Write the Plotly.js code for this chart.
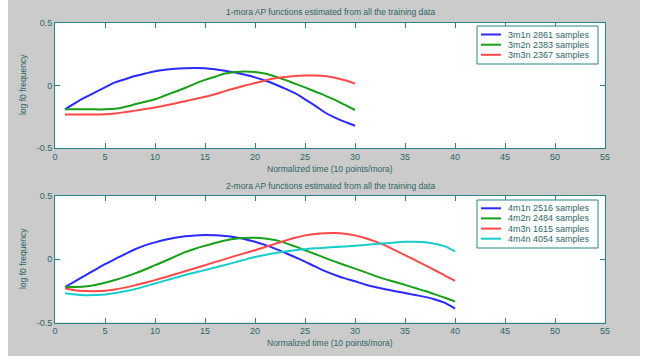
<!DOCTYPE html>
<html>
<head>
<meta charset="utf-8">
<script src="https://cdn.plot.ly/plotly-3.0.1.min.js"></script>
<style>html,body{margin:0;padding:0;background:#fff;}#chart{width:645px;height:360px;}</style>
</head>
<body>
<div id="chart"></div>
<script>
// ---- data ----
const time1 = [1,2,3,4,5,6,7,8,9,10,11,12,13,14,15,16,17,18,19,20,21,22,23,24,25,26,27,28,29,30];
const time2 = [1,2,3,4,5,6,7,8,9,10,11,12,13,14,15,16,17,18,19,20,21,22,23,24,25,26,27,28,29,30,31,32,33,34,35,36,37,38,39,40];

const m3n1 = [-0.19,-0.14,-0.095,-0.055,-0.015,0.025,0.05,0.075,0.095,0.113,0.125,0.133,0.138,0.14,0.138,0.13,0.118,0.103,0.085,0.065,0.04,0.01,-0.025,-0.06,-0.11,-0.16,-0.215,-0.255,-0.29,-0.32];
const m3n2 = [-0.19,-0.19,-0.19,-0.19,-0.19,-0.185,-0.17,-0.15,-0.13,-0.11,-0.08,-0.05,-0.02,0.015,0.045,0.07,0.095,0.108,0.112,0.108,0.095,0.072,0.045,0.015,-0.015,-0.048,-0.08,-0.115,-0.155,-0.195];
const m3n3 = [-0.23,-0.23,-0.23,-0.23,-0.228,-0.222,-0.212,-0.2,-0.188,-0.175,-0.16,-0.143,-0.125,-0.108,-0.09,-0.07,-0.045,-0.022,0.0,0.02,0.04,0.057,0.068,0.076,0.08,0.08,0.075,0.062,0.042,0.015];

const m4n1 = [-0.22,-0.175,-0.13,-0.085,-0.04,0.0,0.04,0.078,0.108,0.132,0.152,0.168,0.18,0.187,0.19,0.188,0.182,0.172,0.157,0.137,0.112,0.083,0.05,0.015,-0.02,-0.058,-0.095,-0.125,-0.152,-0.175,-0.2,-0.22,-0.237,-0.253,-0.268,-0.283,-0.298,-0.318,-0.345,-0.39];
const m4n2 = [-0.22,-0.22,-0.217,-0.205,-0.187,-0.165,-0.14,-0.113,-0.082,-0.048,-0.015,0.02,0.055,0.082,0.105,0.127,0.147,0.16,0.167,0.168,0.163,0.15,0.128,0.1,0.07,0.04,0.01,-0.02,-0.048,-0.075,-0.103,-0.132,-0.158,-0.18,-0.203,-0.228,-0.252,-0.278,-0.305,-0.335];
const m4n3 = [-0.23,-0.245,-0.252,-0.253,-0.25,-0.24,-0.225,-0.207,-0.187,-0.166,-0.143,-0.12,-0.096,-0.072,-0.048,-0.024,0.0,0.024,0.047,0.07,0.095,0.12,0.145,0.168,0.187,0.198,0.204,0.205,0.2,0.187,0.167,0.14,0.108,0.07,0.032,-0.008,-0.048,-0.088,-0.13,-0.172];
const m4n4 = [-0.27,-0.28,-0.285,-0.284,-0.28,-0.268,-0.253,-0.237,-0.215,-0.192,-0.17,-0.148,-0.126,-0.106,-0.087,-0.066,-0.046,-0.026,-0.004,0.016,0.033,0.047,0.06,0.07,0.078,0.085,0.09,0.095,0.1,0.105,0.112,0.119,0.125,0.131,0.136,0.137,0.132,0.12,0.1,0.06];

const names1 = ['3m1n 2861 samples','3m2n 2383 samples','3m3n 2367 samples'];
const names2 = ['4m1n 2516 samples','4m2n 2484 samples','4m3n 1615 samples','4m4n 4054 samples'];
const yTickVals = [-0.5, 0, 0.5];
const yTickText = ['-0.5', '0', '0.5'];
const xTickVals = [0,5,10,15,20,25,30,35,40,45,50,55];
const title1 = '1-mora AP functions estimated from all the training data';
const title2 = '2-mora AP functions estimated from all the training data';
const xLabel = 'Normalized time (10 points/mora)';
const yLabel = 'log f0 frequency';

// ---- styles ----
const colors1 = ['#2a2aff','#18a018','#ff4848'];
const colors2 = ['#2a2aff','#18a018','#ff4848','#18cccc'];
const W = 645, H = 360;
const px = v => v / W;
const py = v => 1 - v / H;
const txtColor = '#2e6666';
const axColor = '#2a8484';
const FONT = 'Liberation Sans, Arial, sans-serif';

const traces = [];
const series1 = [m3n1, m3n2, m3n3];
const series2 = [m4n1, m4n2, m4n3, m4n4];
series1.forEach((s, i) => traces.push({x: time1, y: s, type: 'scatter', mode: 'lines', name: names1[i],
  line: {color: colors1[i], width: 2, shape: 'spline', smoothing: 1}, xaxis: 'x', yaxis: 'y', showlegend: false}));
series2.forEach((s, i) => traces.push({x: time2, y: s, type: 'scatter', mode: 'lines', name: names2[i],
  line: {color: colors2[i], width: 2, shape: 'spline', smoothing: 1}, xaxis: 'x2', yaxis: 'y2', showlegend: false}));

function xax(anchor) {
  return {domain: [px(55), px(605)], range: [0, 55], anchor: anchor, tickvals: xTickVals,
    ticks: 'inside', ticklen: 5, tickcolor: axColor, showline: true, linecolor: axColor, linewidth: 1,
    mirror: 'ticks', showgrid: false, zeroline: false, tickfont: {size: 9, color: txtColor, family: FONT}};
}
function yax(anchor, top, bottom) {
  return {domain: [py(bottom), py(top)], range: [-0.5, 0.5], anchor: anchor, tickvals: yTickVals, ticktext: yTickText,
    ticks: 'inside', ticklen: 5, tickcolor: axColor, showline: true, linecolor: axColor, linewidth: 1,
    mirror: 'ticks', showgrid: false, zeroline: false, tickfont: {size: 9, color: txtColor, family: FONT}};
}

const shapes = [
  {type: 'rect', xref: 'paper', yref: 'paper', x0: px(8), x1: px(640), y0: py(356), y1: 1,
   fillcolor: '#cbcbcb', line: {width: 0}, layer: 'below'},
  {type: 'rect', xref: 'x domain', yref: 'y domain', x0: 0, x1: 1, y0: 0, y1: 1,
   fillcolor: '#ffffff', line: {width: 0}, layer: 'below'},
  {type: 'rect', xref: 'x2 domain', yref: 'y2 domain', x0: 0, x1: 1, y0: 0, y1: 1,
   fillcolor: '#ffffff', line: {width: 0}, layer: 'below'}
];
const annotations = [];
function txt(text, x, y, size, opts) {
  annotations.push(Object.assign({text: text, xref: 'paper', yref: 'paper', x: px(x), y: py(y),
    showarrow: false, xanchor: 'center', yanchor: 'middle',
    font: {size: size, color: txtColor, family: FONT}}, opts || {}));
}
txt(title1, 330, 12, 8.5);
txt(title2, 330, 186, 8.5);
txt(xLabel, 330, 169, 8.5);
txt(xLabel, 330, 343, 8.5);
txt(yLabel, 23, 85, 8.5, {textangle: -90});
txt(yLabel, 23, 259, 8.5, {textangle: -90});

function legendBox(x0, y0, x1, y1, names, colors, ys) {
  shapes.push({type: 'rect', xref: 'paper', yref: 'paper', x0: px(x0), x1: px(x1), y0: py(y1), y1: py(y0),
    fillcolor: '#ffffff', line: {color: axColor, width: 1}});
  names.forEach((n, i) => {
    shapes.push({type: 'line', xref: 'paper', yref: 'paper', x0: px(481), x1: px(501), y0: py(ys[i]), y1: py(ys[i]),
      line: {color: colors[i], width: 2}});
    txt(n, 506, ys[i], 9, {xanchor: 'left'});
  });
}
legendBox(477, 26, 598, 64, names1, colors1, [34.5, 44.7, 54.8]);
legendBox(477, 200, 598, 248, names2, colors2, [208.3, 218.4, 228.6, 238.7]);

const layout = {
  width: W, height: H, margin: {l: 0, r: 0, t: 0, b: 0},
  paper_bgcolor: '#ffffff', plot_bgcolor: 'rgba(0,0,0,0)',
  showlegend: false,
  xaxis: xax('y'), yaxis: yax('x', 22.7, 148.3),
  xaxis2: xax('y2'), yaxis2: yax('x2', 195.7, 322.5),
  shapes: shapes, annotations: annotations,
  font: {family: FONT, color: txtColor}
};
Plotly.newPlot('chart', traces, layout, {staticPlot: true});
</script>
</body>
</html>
